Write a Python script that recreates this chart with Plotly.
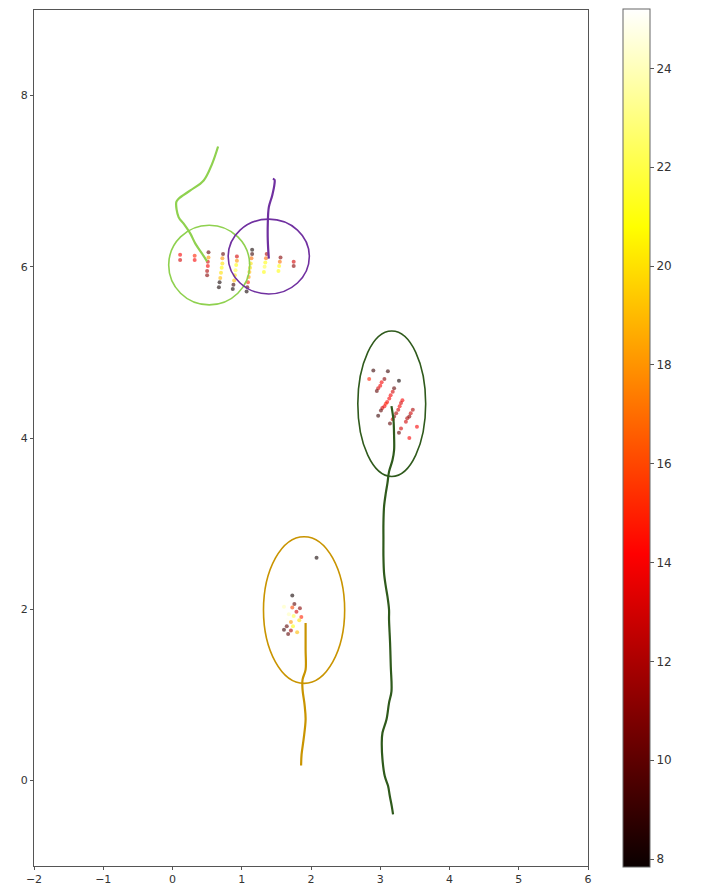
import plotly.graph_objects as go

# ---- scatter dots (x, y, value) ----
dot_x = [
    0.11, 0.11,
    0.32, 0.32,
    0.52, 0.52, 0.51, 0.51, 0.50, 0.50,
    0.73, 0.72, 0.72, 0.71, 0.70, 0.69, 0.68, 0.67,
    0.93, 0.93, 0.92, 0.91, 0.90, 0.89, 0.88, 0.87,
    1.15, 1.15, 1.14, 1.13, 1.12, 1.11, 1.10, 1.09, 1.08, 1.07,
    1.36, 1.35, 1.34, 1.33, 1.32,
    1.56, 1.55, 1.54, 1.53,
    1.75, 1.75,
    # dark green cluster
    2.90, 3.11, 2.84, 3.06, 3.27,
    3.02, 3.00, 2.97, 2.95,
    3.20, 3.18, 3.15, 3.13, 3.10, 3.08, 3.06, 3.03, 3.01, 2.97,
    3.32, 3.30, 3.28, 3.26, 3.23, 3.20, 3.18, 3.14,
    3.47, 3.44, 3.42, 3.39, 3.37,
    3.53, 3.30, 3.27, 3.42,
    # gold cluster
    2.08, 1.73, 1.76, 1.84, 1.73, 1.61, 1.79, 1.86, 1.75, 1.68,
    1.83, 1.71, 1.65, 1.61, 1.71, 1.67, 1.80, 1.74, 1.66,
]
dot_y = [
    6.14, 6.08,
    6.13, 6.08,
    6.17, 6.11, 6.06, 6.01, 5.95, 5.90,
    6.15, 6.10, 6.04, 5.99, 5.93, 5.87, 5.82, 5.76,
    6.12, 6.07, 6.02, 5.96, 5.90, 5.84, 5.79, 5.74,
    6.20, 6.15, 6.10, 6.04, 5.99, 5.94, 5.88, 5.82, 5.76, 5.71,
    6.15, 6.10, 6.05, 6.00, 5.94,
    6.11, 6.06, 6.01, 5.95,
    6.06, 6.01,
    4.79, 4.78, 4.69, 4.69, 4.67,
    4.65, 4.61, 4.58, 4.55,
    4.58, 4.54, 4.50, 4.46, 4.42, 4.40, 4.37, 4.35, 4.32, 4.26,
    4.44, 4.41, 4.37, 4.33, 4.29, 4.25, 4.22, 4.17,
    4.33, 4.29, 4.25, 4.23, 4.19,
    4.13, 4.11, 4.06, 4.00,
    2.60, 2.16, 2.06, 2.01, 2.02, 2.03, 1.97, 1.91, 1.92, 1.94,
    1.87, 1.85, 1.80, 1.76, 1.75, 1.71, 1.73, 1.80, 1.88,
]
dot_v = [
    14, 13,
    15, 14,
    10, 18, 13, 14, 12, 11,
    10, 18, 20, 21, 20, 19, 8, 8,
    13, 18, 21, 22, 20, 19, 9, 8,
    8, 9, 17, 20, 20, 19, 18, 15, 10, 8,
    12, 17, 21, 22, 21,
    11, 17, 21, 21,
    13, 11,
    9, 9, 15, 11, 8,
    14, 14, 13, 10,
    10, 13, 14, 14, 14, 15, 14, 13, 10, 9,
    14, 13, 14, 13, 12, 11, 13, 10,
    12, 13, 11, 12, 13,
    14, 13, 10, 14,
    8, 8, 10, 11, 16, 24, 13, 15, 22, 24,
    20, 18, 10, 9, 12, 10, 19, 21, 25,
]

# ---- trajectories ----
lightgreen_x = [0.658, 0.572, 0.450, 0.258, 0.088, 0.055, 0.088, 0.161, 0.258, 0.330, 0.427, 0.499]
lightgreen_y = [7.405, 7.203, 7.009, 6.892, 6.795, 6.756, 6.581, 6.504, 6.387, 6.271, 6.154, 6.064]
purple_x = [1.449, 1.473, 1.473, 1.440, 1.391, 1.376, 1.376, 1.391]
purple_y = [7.029, 7.017, 6.970, 6.834, 6.697, 6.504, 6.309, 6.096]
darkgreen_x = [3.162, 3.191, 3.200, 3.200, 3.177, 3.127, 3.104, 3.080, 3.055, 3.046, 3.046, 3.046,
               3.055, 3.080, 3.104, 3.127, 3.127, 3.142, 3.152, 3.162, 3.127, 3.090, 3.032, 3.022,
               3.032, 3.065, 3.113, 3.138, 3.166, 3.185]
darkgreen_y = [4.373, 4.210, 4.015, 3.860, 3.743, 3.607, 3.472, 3.355, 3.199, 3.005, 2.811, 2.616,
               2.422, 2.266, 2.149, 1.994, 1.878, 1.606, 1.333, 1.041, 0.906, 0.711, 0.556, 0.440,
               0.245, 0.050, -0.066, -0.183, -0.300, -0.397]
gold_x = [1.922, 1.922, 1.922, 1.878, 1.878, 1.907, 1.922, 1.893, 1.864, 1.857]
gold_y = [1.839, 1.528, 1.294, 1.178, 1.061, 0.886, 0.711, 0.478, 0.303, 0.175]

# ---- ellipses (center x, center y, half width, half height) ----
ell_cx = [0.53, 1.39, 3.166, 1.90]
ell_cy = [6.02, 6.12, 4.40, 1.99]
ell_rx = [0.585, 0.586, 0.49, 0.586]
ell_ry = [0.465, 0.437, 0.85, 0.857]
ell_color = ["#8fd14f", "#7030a0", "#2f5a1c", "#c99400"]

hot = [[0.0, "rgb(10,0,0)"], [0.365, "rgb(255,0,0)"], [0.746, "rgb(255,255,0)"], [1.0, "rgb(255,255,255)"]]

fig = go.Figure()
fig.add_trace(go.Scatter(
    x=dot_x, y=dot_y, mode="markers",
    marker=dict(size=4, color=dot_v, colorscale=hot, cmin=7.84, cmax=25.2, opacity=0.6,
                colorbar=dict(
                    thickness=27, thicknessmode="pixels",
                    len=858, lenmode="pixels",
                    x=1.063, xanchor="left", xref="paper",
                    y=0.5, yanchor="middle",
                    xpad=0, ypad=0,
                    tickvals=[8, 10, 12, 14, 16, 18, 20, 22, 24],
                    ticks="outside", ticklen=4, tickcolor="#555",
                    tickfont=dict(family="DejaVu Sans", size=12, color="#333"),
                    outlinecolor="#666", outlinewidth=1,
                )),
    showlegend=False, hoverinfo="skip",
))

for tx, ty, c in [(lightgreen_x, lightgreen_y, ell_color[0]),
                  (purple_x, purple_y, ell_color[1]),
                  (darkgreen_x, darkgreen_y, ell_color[2]),
                  (gold_x, gold_y, ell_color[3])]:
    fig.add_trace(go.Scatter(x=tx, y=ty, mode="lines", line=dict(color=c, width=2.2, shape="spline"),
                             showlegend=False, hoverinfo="skip"))

for cx, cy, rx, ry, c in zip(ell_cx, ell_cy, ell_rx, ell_ry, ell_color):
    fig.add_shape(type="circle", xref="x", yref="y", x0=cx - rx, x1=cx + rx, y0=cy - ry, y1=cy + ry,
                  line=dict(color=c, width=1.6))

axis_common = dict(showgrid=False, zeroline=False, showline=True, mirror=True, linecolor="#555",
                   linewidth=1, ticks="outside", ticklen=3, tickcolor="#555",
                   tickfont=dict(family="DejaVu Sans", size=11, color="#333"))
fig.update_xaxes(range=[-2, 6], tickvals=[-2, -1, 0, 1, 2, 3, 4, 5, 6], **axis_common)
fig.update_yaxes(range=[-1, 9], tickvals=[0, 2, 4, 6, 8], **axis_common)

# page body has an 8px margin, so the figure is placed at (8, 8)
fig.update_layout(
    width=695, height=878,
    margin=dict(l=26, r=115, t=2, b=20, autoexpand=False),
    plot_bgcolor="white", paper_bgcolor="white",
)
fig.write_html("out.html")
